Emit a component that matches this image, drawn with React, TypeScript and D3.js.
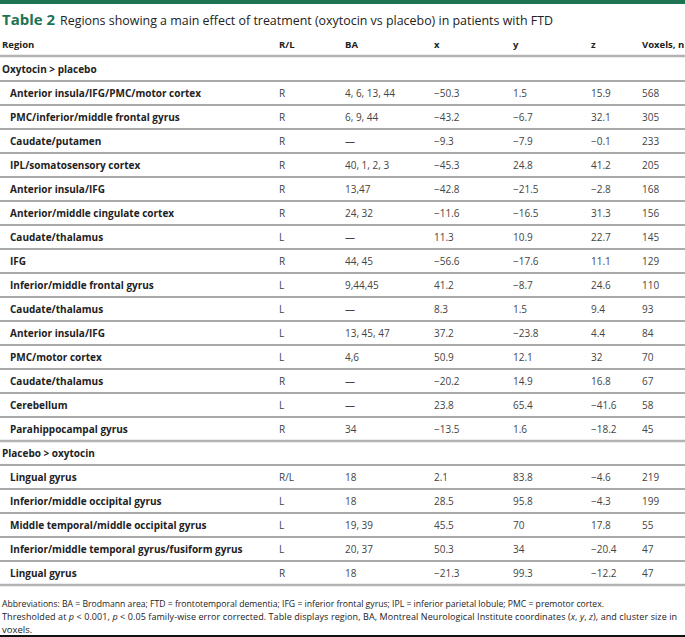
import React from "react";
import * as d3 from "d3";

const columns = ["Region", "R/L", "BA", "x", "y", "z", "Voxels, n"];
const groups = ["Oxytocin > placebo", "Placebo > oxytocin"];
const groupSizes = [15, 5];
const regions = [
  "Anterior insula/IFG/PMC/motor cortex",
  "PMC/inferior/middle frontal gyrus",
  "Caudate/putamen",
  "IPL/somatosensory cortex",
  "Anterior insula/IFG",
  "Anterior/middle cingulate cortex",
  "Caudate/thalamus",
  "IFG",
  "Inferior/middle frontal gyrus",
  "Caudate/thalamus",
  "Anterior insula/IFG",
  "PMC/motor cortex",
  "Caudate/thalamus",
  "Cerebellum",
  "Parahippocampal gyrus",
  "Lingual gyrus",
  "Inferior/middle occipital gyrus",
  "Middle temporal/middle occipital gyrus",
  "Inferior/middle temporal gyrus/fusiform gyrus",
  "Lingual gyrus",
];
const sides = ["R", "R", "R", "R", "R", "R", "L", "R", "L", "L", "L", "L", "R", "L", "R", "R/L", "L", "L", "L", "R"];
const brodmann = ["4, 6, 13, 44", "6, 9, 44", "—", "40, 1, 2, 3", "13,47", "24, 32", "—", "44, 45", "9,44,45", "—", "13, 45, 47", "4,6", "—", "—", "34", "18", "18", "19, 39", "20, 37", "18"];
const xs = ["−50.3", "−43.2", "−9.3", "−45.3", "−42.8", "−11.6", "11.3", "−56.6", "41.2", "8.3", "37.2", "50.9", "−20.2", "23.8", "−13.5", "2.1", "28.5", "45.5", "50.3", "−21.3"];
const ys = ["1.5", "−6.7", "−7.9", "24.8", "−21.5", "−16.5", "10.9", "−17.6", "−8.7", "1.5", "−23.8", "12.1", "14.9", "65.4", "1.6", "83.8", "95.8", "70", "34", "99.3"];
const zs = ["15.9", "32.1", "−0.1", "41.2", "−2.8", "31.3", "22.7", "11.1", "24.6", "9.4", "4.4", "32", "16.8", "−41.6", "−18.2", "−4.6", "−4.3", "17.8", "−20.4", "−12.2"];
const voxels = [568, 305, 233, 205, 168, 156, 145, 129, 110, 93, 84, 70, 67, 58, 45, 219, 199, 55, 47, 47];

const W = 685;
const H = 637;
const FONT = "'Open Sans', 'Noto Sans', sans-serif";
const GREEN = "#1d7352";
const TEXT = "#222";
const VAL = "#444";

export default function App() {
  const colX = d3.scaleOrdinal<string, number>()
    .domain(columns)
    .range([2, 279, 345, 434, 513, 591, 642]);

  type Row = { kind: "group"; label: string } | { kind: "data"; i: number };
  const rows: Row[] = [];
  let k = 0;
  groups.forEach((g, gi) => {
    rows.push({ kind: "group", label: g });
    for (let j = 0; j < groupSizes[gi]; j++) rows.push({ kind: "data", i: k++ });
  });

  const yRow = d3.scaleLinear().domain([0, rows.length - 1]).range([69, 573]);
  const half = 12;

  const lines: { y: number; type: "thick" | "thin" }[] = [];
  lines.push({ y: 56, type: "thick" });
  rows.forEach((r, ri) => {
    const yb = yRow(ri) + half;
    const next = rows[ri + 1];
    if (r.kind === "group") lines.push({ y: yb, type: "thin" });
    else if (!next || next.kind === "group") lines.push({ y: yb, type: "thick" });
    else lines.push({ y: yb, type: "thin" });
  });

  return (
    <div style={{ position: "absolute", left: 0, top: 0 }}>
      <svg width={W} height={H} style={{ display: "block", background: "#fff" }} fontFamily={FONT}>
        <rect x={0} y={0} width={W} height={4} fill={GREEN} />
        <text x={2} y={25} fontSize={13.5} fontWeight={700} fill={GREEN} textLength={53} lengthAdjust="spacingAndGlyphs">
          Table 2
        </text>
        <text x={60} y={25} fontSize={13.5} fill={TEXT} textLength={493} lengthAdjust="spacingAndGlyphs">
          Regions showing a main effect of treatment (oxytocin vs placebo) in patients with FTD
        </text>
        {columns.map((c) => (
          <text key={c} x={colX(c)} y={45} dy="0.35em" fontSize={9.5} fontWeight={700} fill={TEXT}>
            {c}
          </text>
        ))}
        {lines.map((l, i) => (
          <line
            key={i}
            x1={0}
            x2={W}
            y1={l.y}
            y2={l.y}
            stroke={l.type === "thick" ? "#b3b3b3" : "#555"}
            strokeWidth={l.type === "thick" ? 2.5 : 1}
          />
        ))}
        {rows.map((r, ri) => {
          const y = yRow(ri);
          if (r.kind === "group") {
            return (
              <text key={ri} x={2} y={y} dy="0.35em" fontSize={10} fontWeight={700} fill={TEXT}>
                {r.label}
              </text>
            );
          }
          const i = r.i;
          const vals = [sides[i], brodmann[i], xs[i], ys[i], zs[i], String(voxels[i])];
          return (
            <g key={ri}>
              <text x={10} y={y} dy="0.35em" fontSize={10} fontWeight={700} fill={TEXT}>
                {regions[i]}
              </text>
              {vals.map((v, vi) => (
                <text key={vi} x={colX(columns[vi + 1])} y={y} dy="0.35em" fontSize={10} fill={VAL}>
                  {v}
                </text>
              ))}
            </g>
          );
        })}
        <g fill={TEXT}>
          <text x={2} y={607} fontSize={9.5} textLength={602} lengthAdjust="spacingAndGlyphs">
            Abbreviations: BA = Brodmann area; FTD = frontotemporal dementia; IFG = inferior frontal gyrus; IPL = inferior parietal lobule; PMC = premotor cortex.
          </text>
          <text x={2} y={620} fontSize={9} letterSpacing={0.08}>
            Thresholded at <tspan fontStyle="italic">p</tspan> &lt; 0.001, <tspan fontStyle="italic">p</tspan> &lt; 0.05 family-wise error corrected. Table displays region, BA, Montreal Neurological Institute coordinates (<tspan fontStyle="italic">x</tspan>, <tspan fontStyle="italic">y</tspan>, <tspan fontStyle="italic">z</tspan>), and cluster size in
          </text>
          <text x={2} y={633} fontSize={9.5}>voxels.</text>
        </g>
        <line x1={0} x2={W} y1={H - 1} y2={H - 1} stroke="#111" strokeWidth={2} />
      </svg>
    </div>
  );
}
